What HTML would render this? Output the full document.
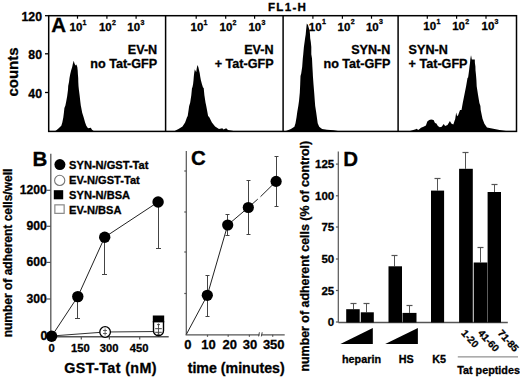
<!DOCTYPE html>
<html><head><meta charset="utf-8"><style>
html,body{margin:0;padding:0;background:#fff;}
svg{display:block;}
text{font-family:"Liberation Sans",sans-serif;font-weight:bold;fill:#000;stroke:#000;stroke-width:0.3px;}
</style></head><body>
<svg width="520" height="384" viewBox="0 0 520 384">
<rect width="520" height="384" fill="#fff"/>
<polygon points="55,131.2 56.7,130.1 58.7,128.2 61.3,125.8 62.3,122.4 63.3,117.6 63.9,112.8 64.4,108 65.4,105.4 66.2,101.5 67.2,96 68,89.8 68.2,85.9 69,82 69.5,78 70.2,74.2 71.1,70.6 72.2,66.9 72.8,64 73.7,60.7 74.5,63.5 75.5,65.5 76.4,64.4 77.3,66.9 77.7,70.6 77.9,74.2 78.2,77.9 78.3,82 78.5,85.9 78.9,89.8 79.7,96 80.3,101.5 80.8,105.4 81.3,108 82.2,112.8 83.7,117.6 85.1,122.4 86.3,125.8 88,128.2 90.9,127.8 91.5,129 92.3,130.1 94,131.2" fill="#000" />
<polygon points="174,131.5 176,130.3 178.5,129 182.5,126.4 185.1,122.5 187,117.2 187.7,116 188.6,109.9 189.1,106.2 190.2,102.6 191.3,95.3 192,88 192.4,87.5 193.1,83.9 193.5,80.2 193.8,76.6 194.2,72.9 194.8,69.3 195.6,71 196.2,72.2 196.8,68 197.5,64.9 198.3,67 199.7,72.9 200.2,76.6 200.9,80.2 201.9,83.9 203,87.5 203.7,88 204.4,95.3 205.5,102.6 206.3,106.2 207,109.9 208.1,116 209.3,117.2 211.9,122.5 215.1,126.4 219,129 222.3,128.3 223.5,129.5 226.2,128.3 228,130 231,130.5 236,131.5" fill="#000" />
<polygon points="286,131 290.9,129.1 294.4,126.8 295.5,123.3 296.5,117.5 297.3,111.8 298.3,106 299,101 299.8,92.7 300.2,84.3 300.5,76 301.2,73.5 302.2,66.8 302.8,58.5 303.25,54.3 303.9,47 304.6,41.9 305.1,38.2 305.7,34.6 306,30.9 306.4,27.3 306.8,23.6 308,25 308.6,27.3 309.7,30.9 310,34.6 310.2,38.2 310.8,41.9 311.3,47 311.3,54.3 312,58.5 312.4,66.8 312.8,73.5 312.9,76 313.5,84.3 314.2,92.7 314.8,101 315.2,106 316.1,111.8 316.9,117.5 317.7,123.3 319.2,126.8 322.1,129.1 327,129.8 333.6,130.2 338,131" fill="#000" />
<polygon points="410,131 415.8,129.2 416.7,128.75 418.2,130 419.6,129 421,127.8 423.5,126.8 425.9,125.4 427.3,121.5 429.2,120.1 431.2,119.6 433.6,120.1 435,123 436.4,123.5 437.9,125.9 439.8,127.3 441.7,126.8 443.7,123.9 445.1,125.9 447.5,124.9 449.9,121.1 451.3,123.5 453.3,124.4 455.2,119.1 456.2,112.4 457.1,116.25 458.1,115.3 460,110 461.5,110 462.75,103 464.4,94.7 466.1,86.3 467.5,78 468.1,77.5 468.6,73.9 469.1,70.2 469.5,66.6 470,62.9 470.3,59.3 470.7,57 471,55.3 471.4,57 471.8,59.5 474.8,59.5 474.9,62.9 475.4,66.6 475.5,70.2 475.9,73.9 476.2,77.5 476.4,80 476.7,86.3 478,94.7 479.4,103 480.4,106 480.7,110 482.5,118.7 484.4,123.8 487,127.6 493.3,128.8 499.6,130 506,131" fill="#000" />
<rect x="48.7" y="15.7" width="467.8" height="115.7" fill="none" stroke="#000" stroke-width="1.5"/>
<line x1="165.6" y1="15.7" x2="165.6" y2="131.4" stroke="#000" stroke-width="1.5"/>
<line x1="283.1" y1="15.7" x2="283.1" y2="131.4" stroke="#000" stroke-width="1.5"/>
<line x1="398.1" y1="15.7" x2="398.1" y2="131.4" stroke="#000" stroke-width="1.5"/>
<line x1="45" y1="15.7" x2="48.7" y2="15.7" stroke="#000" stroke-width="1.3"/>
<text x="42" y="20.799999999999997" font-size="12.3" text-anchor="end" >120</text>
<line x1="45" y1="53.8" x2="48.7" y2="53.8" stroke="#000" stroke-width="1.3"/>
<text x="42" y="58.9" font-size="12.3" text-anchor="end" >80</text>
<line x1="45" y1="92.5" x2="48.7" y2="92.5" stroke="#000" stroke-width="1.3"/>
<text x="42" y="97.6" font-size="12.3" text-anchor="end" >40</text>
<text x="0" y="0" font-size="15" text-anchor="middle" transform="translate(18.3,72) rotate(-90)">counts</text>
<text x="287.6" y="10.8" font-size="11.6" text-anchor="middle" letter-spacing="1.3">FL1-H</text>
<line x1="77.5" y1="15.7" x2="77.5" y2="18.7" stroke="#000" stroke-width="1.2"/>
<text x="69.5" y="31.3" font-size="11.5" text-anchor="start" >10<tspan font-size="7" dx="0.3" dy="-6.2">1</tspan></text>
<line x1="106.9" y1="15.7" x2="106.9" y2="18.7" stroke="#000" stroke-width="1.2"/>
<text x="98.89999999999999" y="31.3" font-size="11.5" text-anchor="start" >10<tspan font-size="7" dx="0.3" dy="-6.2">2</tspan></text>
<line x1="136.1" y1="15.7" x2="136.1" y2="18.7" stroke="#000" stroke-width="1.2"/>
<text x="127.3" y="31.3" font-size="11.5" text-anchor="start" >10<tspan font-size="7" dx="0.3" dy="-6.2">3</tspan></text>
<line x1="196.2" y1="15.7" x2="196.2" y2="18.7" stroke="#000" stroke-width="1.2"/>
<text x="190.5" y="30.7" font-size="11.5" text-anchor="start" >10<tspan font-size="7" dx="0.3" dy="-6.2">1</tspan></text>
<line x1="225.7" y1="15.7" x2="225.7" y2="18.7" stroke="#000" stroke-width="1.2"/>
<text x="219.5" y="30.7" font-size="11.5" text-anchor="start" >10<tspan font-size="7" dx="0.3" dy="-6.2">2</tspan></text>
<line x1="254.6" y1="15.7" x2="254.6" y2="18.7" stroke="#000" stroke-width="1.2"/>
<text x="248.4" y="30.7" font-size="11.5" text-anchor="start" >10<tspan font-size="7" dx="0.3" dy="-6.2">3</tspan></text>
<line x1="312.9" y1="15.7" x2="312.9" y2="18.7" stroke="#000" stroke-width="1.2"/>
<text x="308.8" y="30.6" font-size="11.5" text-anchor="start" >10<tspan font-size="7" dx="0.3" dy="-6.2">1</tspan></text>
<line x1="342.4" y1="15.7" x2="342.4" y2="18.7" stroke="#000" stroke-width="1.2"/>
<text x="337.6" y="30.6" font-size="11.5" text-anchor="start" >10<tspan font-size="7" dx="0.3" dy="-6.2">2</tspan></text>
<line x1="371.5" y1="15.7" x2="371.5" y2="18.7" stroke="#000" stroke-width="1.2"/>
<text x="365.90000000000003" y="30.6" font-size="11.5" text-anchor="start" >10<tspan font-size="7" dx="0.3" dy="-6.2">3</tspan></text>
<line x1="427.3" y1="15.7" x2="427.3" y2="18.7" stroke="#000" stroke-width="1.2"/>
<text x="423.3" y="29.9" font-size="11.5" text-anchor="start" >10<tspan font-size="7" dx="0.3" dy="-6.2">1</tspan></text>
<line x1="456.6" y1="15.7" x2="456.6" y2="18.7" stroke="#000" stroke-width="1.2"/>
<text x="452.2" y="29.9" font-size="11.5" text-anchor="start" >10<tspan font-size="7" dx="0.3" dy="-6.2">2</tspan></text>
<line x1="486" y1="15.7" x2="486" y2="18.7" stroke="#000" stroke-width="1.2"/>
<text x="481.5" y="29.9" font-size="11.5" text-anchor="start" >10<tspan font-size="7" dx="0.3" dy="-6.2">3</tspan></text>
<text x="51.2" y="32.3" font-size="20.5" text-anchor="start" >A</text>
<text x="157.2" y="53.9" font-size="12.6" text-anchor="end" >EV-N</text>
<text x="157.2" y="68.2" font-size="12.6" text-anchor="end" >no Tat-GFP</text>
<text x="273.6" y="53.9" font-size="12.6" text-anchor="end" >EV-N</text>
<text x="273.6" y="68.2" font-size="12.6" text-anchor="end" >+ Tat-GFP</text>
<text x="390.4" y="53.9" font-size="12.6" text-anchor="end" >SYN-N</text>
<text x="390.4" y="68.2" font-size="12.6" text-anchor="end" >no Tat-GFP</text>
<text x="408.6" y="53.6" font-size="12.6" text-anchor="start" >SYN-N</text>
<text x="408.6" y="68.0" font-size="12.6" text-anchor="start" >+ Tat-GFP</text>
<line x1="50.8" y1="153.8" x2="50.8" y2="336.7" stroke="#555" stroke-width="1.3"/>
<line x1="50.2" y1="336.7" x2="168.7" y2="336.7" stroke="#555" stroke-width="1.6"/>
<line x1="46.5" y1="190.3" x2="50.8" y2="190.3" stroke="#555" stroke-width="1.2"/>
<text x="46.9" y="194.10000000000002" font-size="12.2" text-anchor="end" >1200</text>
<line x1="46.5" y1="226.3" x2="50.8" y2="226.3" stroke="#555" stroke-width="1.2"/>
<text x="46.9" y="230.10000000000002" font-size="12.2" text-anchor="end" >900</text>
<line x1="46.5" y1="262.4" x2="50.8" y2="262.4" stroke="#555" stroke-width="1.2"/>
<text x="46.9" y="266.2" font-size="12.2" text-anchor="end" >600</text>
<line x1="46.5" y1="299" x2="50.8" y2="299" stroke="#555" stroke-width="1.2"/>
<text x="46.9" y="302.8" font-size="12.2" text-anchor="end" >300</text>
<text x="47.4" y="339.7" font-size="12.2" text-anchor="end" >0</text>
<line x1="81.3" y1="336.7" x2="81.3" y2="339.5" stroke="#555" stroke-width="1.2"/>
<line x1="109.4" y1="336.7" x2="109.4" y2="339.5" stroke="#555" stroke-width="1.2"/>
<line x1="139.7" y1="336.7" x2="139.7" y2="339.5" stroke="#555" stroke-width="1.2"/>
<text x="51.6" y="351.5" font-size="11.2" text-anchor="middle" >0</text>
<text x="80.4" y="351.5" font-size="11.2" text-anchor="middle" >150</text>
<text x="109.1" y="351.5" font-size="11.2" text-anchor="middle" >300</text>
<text x="139.1" y="351.5" font-size="11.2" text-anchor="middle" >450</text>
<text x="110.6" y="372.7" font-size="14.3" text-anchor="middle" letter-spacing="0.4">GST-Tat (nM)</text>
<text x="32.5" y="166.2" font-size="20.5" text-anchor="start" >B</text>
<text x="0" y="0" font-size="12" text-anchor="middle" transform="translate(11.6,253) rotate(-90)">number of adherent cells/well</text>
<circle cx="59.9" cy="164.6" r="5.5" fill="#000" stroke="none" stroke-width="1"/>
<circle cx="59.7" cy="180.4" r="5.1" fill="#fff" stroke="#777" stroke-width="1.1"/>
<rect x="53.8" y="190.2" width="9.4" height="9.1" fill="#000" stroke="none" stroke-width="1"/>
<rect x="54.85" y="204.85" width="9.3" height="8.5" fill="#fff" stroke="#888" stroke-width="1.2"/>
<text x="69.1" y="168.9" font-size="11.1" text-anchor="start" >SYN-N/GST-Tat</text>
<text x="69.1" y="184.2" font-size="11.1" text-anchor="start" >EV-N/GST-Tat</text>
<text x="69.1" y="198.9" font-size="11.1" text-anchor="start" >SYN-N/BSA</text>
<text x="69.1" y="214.2" font-size="11.1" text-anchor="start" >EV-N/BSA</text>
<polyline points="51.6,336 105.1,332 158.4,331.5" fill="none" stroke="#333" stroke-width="1"/>
<line x1="77.5" y1="296.6" x2="77.5" y2="318.4" stroke="#444" stroke-width="1"/>
<line x1="75.0" y1="318.5" x2="80.0" y2="318.5" stroke="#444" stroke-width="1"/>
<line x1="104.5" y1="237.2" x2="104.5" y2="274" stroke="#444" stroke-width="1"/>
<line x1="102.0" y1="274.5" x2="107.0" y2="274.5" stroke="#444" stroke-width="1"/>
<line x1="158.5" y1="202" x2="158.5" y2="248" stroke="#444" stroke-width="1"/>
<line x1="156.0" y1="248.5" x2="161.0" y2="248.5" stroke="#444" stroke-width="1"/>
<polyline points="51.6,336.3 77.8,296.6 104.7,237.2 158.1,202" fill="none" stroke="#222" stroke-width="1"/>
<path d="M153.5,321 V330.7 A5,5 0 0 0 163.5,330.7 V321" fill="#fff" stroke="#000" stroke-width="1.4"/>
<rect x="152.8" y="315.5" width="11.4" height="6.9" fill="#000" stroke="none" stroke-width="1"/>
<line x1="158.5" y1="323.5" x2="158.5" y2="335" stroke="#444" stroke-width="0.9"/>
<line x1="157" y1="324.6" x2="160" y2="324.6" stroke="#444" stroke-width="0.9"/>
<line x1="155.2" y1="328.7" x2="161.8" y2="328.7" stroke="#444" stroke-width="1"/>
<line x1="155.2" y1="332.3" x2="161.8" y2="332.3" stroke="#444" stroke-width="1"/>
<line x1="157" y1="334.3" x2="160" y2="334.3" stroke="#444" stroke-width="0.9"/>
<circle cx="105.1" cy="332" r="5.3" fill="#fff" stroke="#000" stroke-width="1.3"/>
<line x1="105.1" y1="328.5" x2="105.1" y2="335.5" stroke="#444" stroke-width="0.8"/>
<line x1="103" y1="330.5" x2="107" y2="330.5" stroke="#444" stroke-width="0.8"/>
<line x1="103" y1="333.5" x2="107" y2="333.5" stroke="#444" stroke-width="0.8"/>
<circle cx="51.6" cy="336.3" r="5.7" fill="#000" stroke="none" stroke-width="1"/>
<circle cx="77.8" cy="296.6" r="5.7" fill="#000" stroke="none" stroke-width="1"/>
<circle cx="104.7" cy="237.2" r="5.7" fill="#000" stroke="none" stroke-width="1"/>
<circle cx="158.1" cy="202" r="5.7" fill="#000" stroke="none" stroke-width="1"/>
<line x1="186.3" y1="151" x2="186.3" y2="334.8" stroke="#555" stroke-width="1.2"/>
<line x1="185.6" y1="334.8" x2="284.7" y2="334.8" stroke="#555" stroke-width="1.3"/>
<line x1="184.3" y1="171" x2="186.3" y2="171" stroke="#555" stroke-width="1.2"/>
<line x1="184.3" y1="212" x2="186.3" y2="212" stroke="#555" stroke-width="1.2"/>
<line x1="184.3" y1="252" x2="186.3" y2="252" stroke="#555" stroke-width="1.2"/>
<line x1="184.3" y1="293.5" x2="186.3" y2="293.5" stroke="#555" stroke-width="1.2"/>
<line x1="207.5" y1="334.8" x2="207.5" y2="336.8" stroke="#555" stroke-width="1.2"/>
<line x1="228.2" y1="334.8" x2="228.2" y2="336.8" stroke="#555" stroke-width="1.2"/>
<line x1="249.4" y1="334.8" x2="249.4" y2="336.8" stroke="#555" stroke-width="1.2"/>
<line x1="272.7" y1="334.8" x2="272.7" y2="336.8" stroke="#555" stroke-width="1.2"/>
<rect x="259.6" y="333.5" width="1.6" height="2.6" fill="#fff"/>
<line x1="258.6" y1="336.4" x2="259.4" y2="332.3" stroke="#444" stroke-width="1"/>
<line x1="261.4" y1="336.4" x2="262.2" y2="332.3" stroke="#444" stroke-width="1"/>
<text x="187.85" y="349.4" font-size="13" text-anchor="middle" >0</text>
<text x="208.5" y="349.4" font-size="13" text-anchor="middle" >10</text>
<text x="229.75" y="349.4" font-size="13" text-anchor="middle" >20</text>
<text x="250.1" y="349.4" font-size="13" text-anchor="middle" >30</text>
<text x="273.75" y="349.4" font-size="13" text-anchor="middle" >350</text>
<text x="236.2" y="373.1" font-size="14.2" text-anchor="middle" >time (minutes)</text>
<text x="191" y="165.1" font-size="20.5" text-anchor="start" >C</text>
<line x1="207.5" y1="275.2" x2="207.5" y2="316.4" stroke="#444" stroke-width="1"/>
<line x1="205.5" y1="275.5" x2="209.5" y2="275.5" stroke="#444" stroke-width="1"/>
<line x1="205.5" y1="316.5" x2="209.5" y2="316.5" stroke="#444" stroke-width="1"/>
<line x1="227.5" y1="214.3" x2="227.5" y2="235.4" stroke="#444" stroke-width="1"/>
<line x1="225.5" y1="214.5" x2="229.5" y2="214.5" stroke="#444" stroke-width="1"/>
<line x1="225.5" y1="235.5" x2="229.5" y2="235.5" stroke="#444" stroke-width="1"/>
<line x1="248.5" y1="180.2" x2="248.5" y2="234.6" stroke="#444" stroke-width="1"/>
<line x1="246.5" y1="180.5" x2="250.5" y2="180.5" stroke="#444" stroke-width="1"/>
<line x1="246.5" y1="234.5" x2="250.5" y2="234.5" stroke="#444" stroke-width="1"/>
<line x1="276.5" y1="156.5" x2="276.5" y2="206.2" stroke="#444" stroke-width="1"/>
<line x1="274.5" y1="156.5" x2="278.5" y2="156.5" stroke="#444" stroke-width="1"/>
<line x1="274.5" y1="206.5" x2="278.5" y2="206.5" stroke="#444" stroke-width="1"/>
<polyline points="186.4,334.3 207.3,295.3 227.7,225 248.3,207.5 257.8,199.1" fill="none" stroke="#222" stroke-width="1"/>
<polyline points="260.5,196.7 276.1,181.4" fill="none" stroke="#222" stroke-width="1"/>
<circle cx="207.3" cy="295.3" r="5.6" fill="#000" stroke="none" stroke-width="1"/>
<circle cx="227.7" cy="225" r="5.6" fill="#000" stroke="none" stroke-width="1"/>
<circle cx="248.3" cy="207.5" r="5.6" fill="#000" stroke="none" stroke-width="1"/>
<circle cx="276.1" cy="181.4" r="5.6" fill="#000" stroke="none" stroke-width="1"/>
<line x1="338.3" y1="151.5" x2="338.3" y2="322.5" stroke="#555" stroke-width="1.2"/>
<line x1="338.3" y1="322.5" x2="507.8" y2="322.5" stroke="#555" stroke-width="1.3"/>
<line x1="335.9" y1="164.1" x2="338.3" y2="164.1" stroke="#555" stroke-width="1.2"/>
<text x="334.2" y="168.29999999999998" font-size="11.5" text-anchor="end" >125</text>
<line x1="335.9" y1="195.8" x2="338.3" y2="195.8" stroke="#555" stroke-width="1.2"/>
<text x="334.2" y="200.0" font-size="11.5" text-anchor="end" >100</text>
<line x1="335.9" y1="227" x2="338.3" y2="227" stroke="#555" stroke-width="1.2"/>
<text x="334.2" y="231.2" font-size="11.5" text-anchor="end" >75</text>
<line x1="335.9" y1="259" x2="338.3" y2="259" stroke="#555" stroke-width="1.2"/>
<text x="334.2" y="263.2" font-size="11.5" text-anchor="end" >50</text>
<line x1="335.9" y1="290.5" x2="338.3" y2="290.5" stroke="#555" stroke-width="1.2"/>
<text x="334.2" y="294.7" font-size="11.5" text-anchor="end" >25</text>
<line x1="335.9" y1="322" x2="338.3" y2="322" stroke="#555" stroke-width="1.2"/>
<text x="334.2" y="326.2" font-size="11.5" text-anchor="end" >0</text>
<text x="343.3" y="165.9" font-size="20.5" text-anchor="start" >D</text>
<text x="0" y="0" font-size="12.4" text-anchor="middle" transform="translate(309.2,256.2) rotate(-90)">number of adherent cells (% of control)</text>
<line x1="353.5" y1="303.5" x2="353.5" y2="309.2" stroke="#555" stroke-width="1"/>
<line x1="350.5" y1="303.5" x2="356.5" y2="303.5" stroke="#555" stroke-width="1.2"/>
<rect x="346.2" y="309.2" width="13.5" height="13.300000000000011" fill="#000" stroke="none" stroke-width="1"/>
<line x1="366.5" y1="303.5" x2="366.5" y2="312.3" stroke="#555" stroke-width="1"/>
<line x1="363.5" y1="303.5" x2="369.5" y2="303.5" stroke="#555" stroke-width="1.2"/>
<rect x="360.8" y="312.3" width="13.0" height="10.199999999999989" fill="#000" stroke="none" stroke-width="1"/>
<line x1="394.5" y1="255.2" x2="394.5" y2="266.3" stroke="#555" stroke-width="1"/>
<line x1="391.5" y1="255.5" x2="397.5" y2="255.5" stroke="#555" stroke-width="1.2"/>
<rect x="388.5" y="266.3" width="13.5" height="56.19999999999999" fill="#000" stroke="none" stroke-width="1"/>
<line x1="409.5" y1="305.8" x2="409.5" y2="312.9" stroke="#555" stroke-width="1"/>
<line x1="406.5" y1="305.5" x2="412.5" y2="305.5" stroke="#555" stroke-width="1.2"/>
<rect x="402.5" y="312.9" width="14.0" height="9.600000000000023" fill="#000" stroke="none" stroke-width="1"/>
<line x1="437.5" y1="178.1" x2="437.5" y2="190.6" stroke="#555" stroke-width="1"/>
<line x1="434.5" y1="178.5" x2="440.5" y2="178.5" stroke="#555" stroke-width="1.2"/>
<rect x="431" y="190.6" width="13.100000000000023" height="131.9" fill="#000" stroke="none" stroke-width="1"/>
<line x1="465.5" y1="152.8" x2="465.5" y2="168.8" stroke="#555" stroke-width="1"/>
<line x1="462.5" y1="152.5" x2="468.5" y2="152.5" stroke="#555" stroke-width="1.2"/>
<rect x="459.1" y="168.8" width="13.699999999999989" height="153.7" fill="#000" stroke="none" stroke-width="1"/>
<line x1="480.5" y1="247.8" x2="480.5" y2="262.5" stroke="#555" stroke-width="1"/>
<line x1="477.5" y1="247.5" x2="483.5" y2="247.5" stroke="#555" stroke-width="1.2"/>
<rect x="473.7" y="262.5" width="13.699999999999989" height="60.0" fill="#000" stroke="none" stroke-width="1"/>
<line x1="494.5" y1="184.3" x2="494.5" y2="192" stroke="#555" stroke-width="1"/>
<line x1="491.5" y1="184.5" x2="497.5" y2="184.5" stroke="#555" stroke-width="1.2"/>
<rect x="487.6" y="192" width="13.399999999999977" height="130.5" fill="#000" stroke="none" stroke-width="1"/>
<polygon points="340.4,344.1 372.8,328.1 372.8,344.1" fill="#000" />
<polygon points="385.2,344.1 417.9,328.1 417.9,344.1" fill="#000" />
<text x="361.5" y="362.5" font-size="10.8" text-anchor="middle" >heparin</text>
<text x="406.3" y="362.5" font-size="10.8" text-anchor="middle" >HS</text>
<text x="439.2" y="362.5" font-size="10.8" text-anchor="middle" >K5</text>
<text x="0" y="0" font-size="10" text-anchor="start" transform="translate(460.8,333.5) rotate(48)">1-20</text>
<text x="0" y="0" font-size="10" text-anchor="start" transform="translate(477.6,333.5) rotate(48)">41-60</text>
<text x="0" y="0" font-size="10" text-anchor="start" transform="translate(497.2,333.5) rotate(48)">71-85</text>
<line x1="457.8" y1="356.9" x2="518" y2="356.9" stroke="#777" stroke-width="1"/>
<text x="457.2" y="373.7" font-size="10.8" text-anchor="start" >Tat peptides</text>
</svg>
</body></html>
